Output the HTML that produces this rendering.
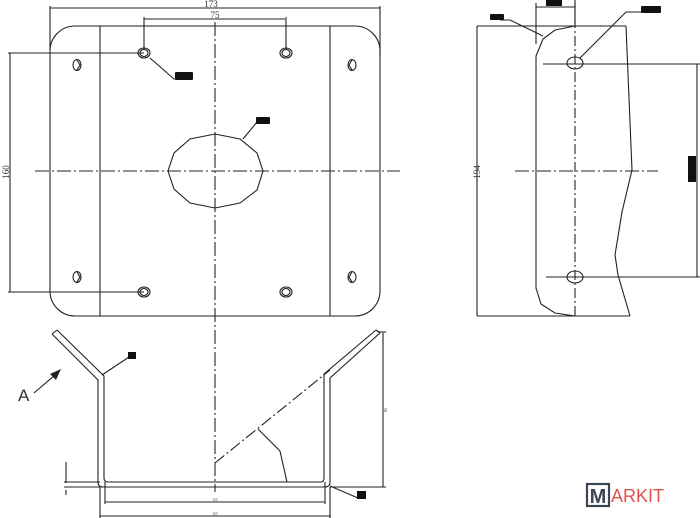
<!DOCTYPE html>
<html><head><meta charset="utf-8"><style>
html,body{margin:0;padding:0;background:#fff;}
svg{display:block;}
</style></head><body>
<svg width="700" height="518" viewBox="0 0 700 518" xmlns="http://www.w3.org/2000/svg" font-family="Liberation Serif, serif">
<g fill="none" stroke="#222" stroke-width="1.1">
<rect x="50" y="26" width="330" height="290" rx="25" ry="25"/>
<line x1="100" y1="26" x2="100" y2="316"/>
<line x1="330" y1="26" x2="330" y2="316"/>
<line x1="215" y1="22" x2="215" y2="492" stroke-dasharray="14,3,2,3"/>
<line x1="35" y1="171" x2="400" y2="171" stroke-dasharray="14,3,2,3"/>
<line x1="50" y1="8" x2="380" y2="8"/>
<line x1="50" y1="6" x2="50" y2="50"/>
<line x1="380" y1="6" x2="380" y2="56"/>
<line x1="144" y1="19" x2="285" y2="19"/>
<line x1="144" y1="17" x2="144" y2="50"/>
<line x1="286" y1="17" x2="286" y2="50"/>
<line x1="10" y1="53" x2="10" y2="292"/>
<line x1="8" y1="53" x2="144" y2="53"/>
<line x1="8" y1="292" x2="144" y2="292"/>
<ellipse cx="144" cy="53" rx="6" ry="5"/><ellipse cx="144" cy="53" rx="4" ry="3.5"/>
<ellipse cx="286" cy="53" rx="6" ry="5"/><ellipse cx="286" cy="53" rx="4" ry="3.5"/>
<ellipse cx="144" cy="292" rx="6" ry="5"/><ellipse cx="144" cy="292" rx="4" ry="3.5"/>
<ellipse cx="286" cy="292" rx="6" ry="5"/><ellipse cx="286" cy="292" rx="4" ry="3.5"/>
<ellipse cx="77" cy="65" rx="4" ry="5.5"/><ellipse cx="352" cy="65" rx="4" ry="5.5"/>
<ellipse cx="77" cy="277" rx="4" ry="5.5"/><ellipse cx="352" cy="277" rx="4" ry="5.5"/>
<path d="M77 60 L80 65 L77 70 M352 60 L349 65 L352 70 M77 272 L80 277 L77 282 M352 272 L349 277 L352 282"/>
<polygon points="215,134 240,139 257,153 263,171 257,190 240,203 215,208 190,203 174,189 168,171 174,153 190,139"/>
<polyline points="150,58 174,79 178,79"/>
<line x1="257" y1="122" x2="243" y2="139"/>
<line x1="477" y1="26" x2="626" y2="26"/>
<line x1="477" y1="316" x2="630" y2="316"/>
<line x1="477" y1="26" x2="477" y2="316"/>
<path d="M575 26 L555 30 L543 39 L536 56 L536 288 L541 304 L555 313 L575 316"/>
<path d="M626 26 L632 170 L622 212 L615 255 L618 275 L630 316"/>
<line x1="575" y1="0" x2="575" y2="316" stroke-dasharray="10,3,2,3"/>
<line x1="515" y1="171" x2="658" y2="171" stroke-dasharray="14,3,2,3"/>
<ellipse cx="575" cy="63" rx="8" ry="6"/>
<ellipse cx="575" cy="277" rx="8" ry="6"/>
<line x1="543" y1="64" x2="700" y2="64"/>
<line x1="546" y1="277" x2="700" y2="277"/>
<line x1="697" y1="64" x2="697" y2="277"/>
<line x1="536" y1="3" x2="536" y2="44"/>
<line x1="575" y1="3" x2="575" y2="26"/>
<line x1="536" y1="7" x2="575" y2="7"/>
<polyline points="500,20 510,20 543,36"/>
<polyline points="641,12 626,12 580,58"/>
<path d="M52 334 L97 379 L98 380 L98 482 Q98 487 103 487 L325 487 Q330 487 330 482 L330 378 L380 333"/>
<path d="M57 330 L104 376 L104 478 Q104 482 108 482 L321 482 Q324 482 324 478 L324 374 L376 330"/>
<line x1="52" y1="334" x2="57" y2="330"/>
<line x1="376" y1="330" x2="380" y2="333"/>
<line x1="215" y1="463" x2="330" y2="370" stroke-dasharray="12,3,2,3"/>
<polyline points="258,429 280,451 287,482"/>
<line x1="383" y1="333" x2="383" y2="487"/>
<line x1="330" y1="487" x2="386" y2="487"/>
<line x1="378" y1="332" x2="386" y2="332"/>
<line x1="105" y1="502" x2="325" y2="502"/>
<line x1="100" y1="516" x2="331" y2="516"/>
<line x1="100" y1="487" x2="100" y2="518"/>
<line x1="330" y1="487" x2="330" y2="518"/>
<line x1="105" y1="482" x2="105" y2="504"/>
<line x1="325" y1="482" x2="325" y2="504"/>
<line x1="66" y1="462" x2="66" y2="483"/>
<line x1="66" y1="490" x2="66" y2="495"/>
<line x1="64" y1="482" x2="100" y2="482"/>
<line x1="64" y1="487" x2="100" y2="487"/>
<line x1="102" y1="375" x2="129" y2="357"/>
<line x1="330" y1="486" x2="358" y2="498"/>
<line x1="34" y1="393" x2="55" y2="375"/>
</g>
<polygon points="61,369 50,374 56,380" fill="#222"/>
<g fill="#111">
<rect x="175" y="72" width="18" height="8" rx="1"/>
<rect x="256" y="117" width="14" height="7" rx="1"/>
<rect x="546" y="0" width="16" height="6"/>
<rect x="490" y="14" width="14" height="6" rx="1"/>
<rect x="641" y="6" width="20" height="7" rx="1"/>
<rect x="688" y="156" width="8" height="26"/>
<rect x="128" y="352" width="8" height="7"/>
<rect x="357" y="491" width="9" height="8"/>
</g>
<g fill="#333" font-size="9" text-anchor="middle">
<text x="211" y="7">173</text>
<text x="215" y="18">75</text>
<text transform="translate(9,172) rotate(-90)" font-size="9">160</text>
<text transform="translate(480,172) rotate(-90)" font-size="9">194</text>
<text x="215" y="501" font-size="4">111</text>
<text x="215" y="515" font-size="4">111</text>
<text transform="translate(387,410) rotate(-90)" font-size="4">85</text>
</g>
<text x="18" y="401" font-family="Liberation Sans, sans-serif" font-size="17" fill="#333">A</text>
<rect x="587" y="484" width="22" height="22" fill="#fff" stroke="#3b4556" stroke-width="2.2"/>
<text x="598" y="503" text-anchor="middle" font-family="Liberation Sans, sans-serif" font-size="20" font-weight="bold" fill="#3b4556">M</text>
<text x="611" y="502" font-family="Liberation Sans, sans-serif" font-size="18" fill="#e0534a">ARKIT</text>
</svg>
</body></html>
